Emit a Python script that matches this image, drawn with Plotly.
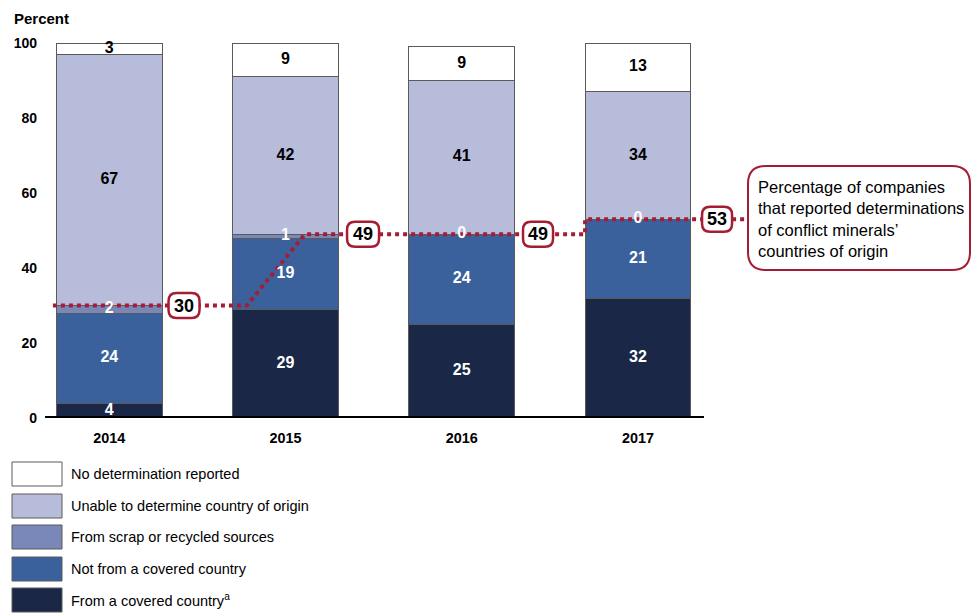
import plotly.graph_objects as go

# ---------------- data ----------------
years = ["2014", "2015", "2016", "2017"]
series_names = [
    "From a covered country<sup>a</sup>",
    "Not from a covered country",
    "From scrap or recycled sources",
    "Unable to determine country of origin",
    "No determination reported",
]
covered = [4, 29, 25, 32]
not_covered = [24, 19, 24, 21]
scrap = [2, 1, 0, 0]
unable = [67, 42, 41, 34]
no_determination = [3, 9, 9, 13]
determined_pct = [30, 49, 49, 53]
y_ticks = [0, 20, 40, 60, 80, 100]
callout_text = ("Percentage of companies<br>that reported determinations"
                "<br>of conflict minerals’<br>countries of origin")

# ---------------- style ----------------
colors = ["#1A2747", "#3A619C", "#7987B9", "#B8BCDB", "#FFFFFF"]
label_colors = ["white", "white", "white", "black", "black"]
RED = "#A51D35"
FONT = "Liberation Sans, Arial, sans-serif"
OFF = 8  # page body margin
W, H = 980 - OFF, 613 - OFF
PL, PT, PW, PH = 45, 43, 705, 375          # plot area in window pixels
L, T = PL - OFF, PT - OFF
R, B = W - L - PW, H - T - PH

def px2x(px):
    return (px - PL) / PW

def py2y(py):
    return (PT + PH - py) / PH

def rounded_path(x0, y0, x1, y1, r, conv=True):
    def P(x, y):
        if conv:
            return f"{px2x(x):.5f},{py2y(y):.5f}"
        return f"{x:.2f},{y:.2f}"
    return (f"M {P(x0 + r, y0)} L {P(x1 - r, y0)} Q {P(x1, y0)} {P(x1, y0 + r)} "
            f"L {P(x1, y1 - r)} Q {P(x1, y1)} {P(x1 - r, y1)} L {P(x0 + r, y1)} "
            f"Q {P(x0, y1)} {P(x0, y1 - r)} L {P(x0, y0 + r)} Q {P(x0, y0)} {P(x0 + r, y0)} Z")

series = [covered, not_covered, scrap, unable, no_determination]
xpos = list(range(len(years)))

fig = go.Figure()
for vals, name, col in zip(series, series_names, colors):
    fig.add_trace(go.Bar(
        x=xpos, y=vals, name=name, width=0.6,
        marker=dict(color=col, line=dict(color="#5A5A5A", width=1)),
        cliponaxis=False, showlegend=False, hoverinfo="skip",
    ))

# dotted percentage line (breakpoints relative to category positions)
lx = [xpos[0] - 0.32, xpos[0] + 0.78, xpos[1] + 0.11, xpos[3] - 0.30, xpos[3] - 0.30, xpos[3] + 0.625]
ly = [determined_pct[0], determined_pct[0], determined_pct[1], determined_pct[2],
      determined_pct[3], determined_pct[3]]
fig.add_trace(go.Scatter(x=lx, y=ly, mode="lines",
                         line=dict(color=RED, width=4, dash="dot"),
                         showlegend=False, hoverinfo="skip"))

# segment labels
for k, (vals, lc) in enumerate(zip(series, label_colors)):
    mids = []
    for i in range(len(years)):
        base = sum(series[j][i] for j in range(k))
        mids.append(base + vals[i] / 2)
    fig.add_trace(go.Scatter(
        x=xpos, y=mids, mode="text", text=[str(v) for v in vals],
        textfont=dict(family=FONT, size=16, color=lc, weight="bold"),
        cliponaxis=False, showlegend=False, hoverinfo="skip",
    ))

shapes = []
annotations = []

# baseline
shapes.append(dict(type="line", xref="x", yref="y", x0=-0.365, x1=3.375, y0=0, y1=0,
                   line=dict(color="black", width=4), layer="above"))

# value label boxes
box_x = [xpos[0] + 0.424, xpos[1] + 0.44, xpos[2] + 0.433, xpos[3] + 0.449]
box_w = [31, 32, 30, 30]
for bx, bv, bw in zip(box_x, determined_pct, box_w):
    shapes.append(dict(type="path", xref="x", yref="y", xsizemode="pixel", ysizemode="pixel",
                       xanchor=bx, yanchor=bv,
                       path=rounded_path(-bw / 2, -12.5, bw / 2, 12.5, 8, conv=False),
                       fillcolor="white", line=dict(color=RED, width=2.5), layer="above"))
    annotations.append(dict(x=bx, y=bv, xref="x", yref="y", text=f"<b>{bv}</b>",
                            showarrow=False, font=dict(family=FONT, size=18, color="black"),
                            xanchor="center", yanchor="middle"))

# callout box
shapes.append(dict(type="path", xref="paper", yref="paper",
                   path=rounded_path(748, 166, 970, 270, 18),
                   fillcolor="white", line=dict(color=RED, width=2), layer="above"))
annotations.append(dict(x=px2x(756), y=py2y(219), xref="paper", yref="paper",
                        text=callout_text, showarrow=False, align="left",
                        xanchor="left", yanchor="middle",
                        font=dict(family=FONT, size=16.5, color="black")))

# "Percent" axis title
annotations.append(dict(x=px2x(12), y=py2y(18), xref="paper", yref="paper",
                        text="<b>Percent</b>", showarrow=False, xanchor="left", yanchor="middle",
                        font=dict(family=FONT, size=15, color="black")))

# legend (custom swatches)
leg_order = [4, 3, 2, 1, 0]
leg_top = [462, 494, 525, 557, 588]
for k, top in zip(leg_order, leg_top):
    shapes.append(dict(type="rect", xref="paper", yref="paper",
                       x0=px2x(12), x1=px2x(62), y0=py2y(top), y1=py2y(top + 24),
                       fillcolor=colors[k], line=dict(color="#5A5A5A", width=1), layer="above"))
    annotations.append(dict(x=px2x(69), y=py2y(top + 12), xref="paper", yref="paper",
                            text=series_names[k], showarrow=False, xanchor="left",
                            yanchor="middle", font=dict(family=FONT, size=14.5, color="black")))

fig.update_layout(
    width=W, height=H, margin=dict(l=L, r=R, t=T, b=B, pad=0, autoexpand=False),
    barmode="stack", bargap=0.4,
    paper_bgcolor="white", plot_bgcolor="white",
    shapes=shapes, annotations=annotations, showlegend=False,
    xaxis=dict(range=[-0.365, 3.636], tickvals=xpos, ticktext=[f"<b>{y}</b>" for y in years],
               showgrid=False, zeroline=False, showline=False, ticks="", automargin=False,
               tickfont=dict(family=FONT, size=14.4, color="black"), ticklabelstandoff=10,
               fixedrange=True),
    yaxis=dict(range=[0, 100], tickvals=y_ticks, ticktext=[f"<b>{v}</b>" for v in y_ticks],
               showgrid=False, zeroline=False, showline=False, ticks="", automargin=False,
               tickfont=dict(family=FONT, size=14, color="black"), ticklabelstandoff=7,
               fixedrange=True),
)

fig.write_html("out.html")
